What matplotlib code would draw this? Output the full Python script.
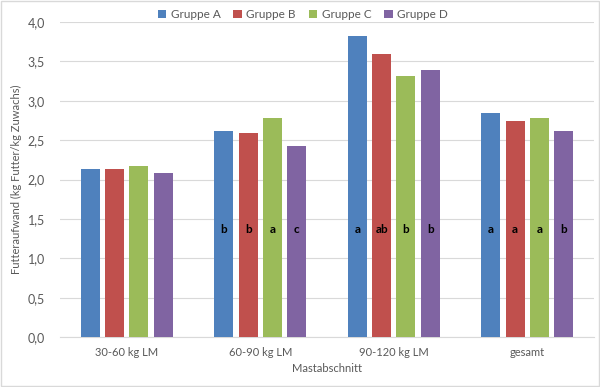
import numpy as np
import matplotlib.pyplot as plt

plt.rcParams['font.family'] = ['Lato', 'DejaVu Sans']

# Daten
abschnitte = ['30-60 kg LM', '60-90 kg LM', '90-120 kg LM', 'gesamt']
gruppen = ['Gruppe A', 'Gruppe B', 'Gruppe C', 'Gruppe D']
gruppe_a = [2.14, 2.62, 3.82, 2.84]
gruppe_b = [2.13, 2.59, 3.60, 2.74]
gruppe_c = [2.17, 2.78, 3.32, 2.78]
gruppe_d = [2.08, 2.43, 3.39, 2.62]
buchstaben_a = ['', 'b', 'a', 'a']
buchstaben_b = ['', 'b', 'ab', 'a']
buchstaben_c = ['', 'a', 'b', 'a']
buchstaben_d = ['', 'c', 'b', 'b']
y_ticks = [0.0, 0.5, 1.0, 1.5, 2.0, 2.5, 3.0, 3.5, 4.0]

farben = ['#4F81BD', '#C0504D', '#9BBB59', '#8064A2']
werte = [gruppe_a, gruppe_b, gruppe_c, gruppe_d]
buchstaben = [buchstaben_a, buchstaben_b, buchstaben_c, buchstaben_d]

fig = plt.figure(figsize=(6, 3.87), dpi=100)
ax = fig.add_axes([0.1, 0.129, 0.89, 0.814])

x = np.arange(len(abschnitte))
schritt = 0.182
breite = 0.142
for i in range(4):
    pos = x + (i - 1.5) * schritt
    ax.bar(pos, werte[i], width=breite, color=farben[i], label=gruppen[i], zorder=3)
    for p, b in zip(pos, buchstaben[i]):
        if b:
            ax.text(p, 1.36, b, ha='center', va='center', fontsize=8.5,
                    fontweight='bold', color='black', zorder=4)

ax.set_xlim(-0.5, len(abschnitte) - 0.5)
ax.set_ylim(0, 4.0)
ax.set_yticks(y_ticks)
ax.set_yticklabels([f'{v:.1f}'.replace('.', ',') for v in y_ticks])
ax.set_xticks(x)
ax.set_xticklabels(abschnitte)
ax.grid(axis='y', color='#D9D9D9', linewidth=0.8, zorder=0)
for s in ['top', 'right', 'left']:
    ax.spines[s].set_visible(False)
ax.spines['bottom'].set_color('#D9D9D9')
ax.tick_params(axis='x', length=0, labelsize=8, colors='#595959', pad=7)
ax.tick_params(axis='y', length=0, labelsize=9, colors='#595959', pad=11)

ax.set_xlabel('Mastabschnitt', fontsize=8, color='#595959', labelpad=4)
ax.set_ylabel('Futteraufwand (kg Futter/kg Zuwachs)', fontsize=8, color='#595959', labelpad=4)

ax.legend(loc='upper center', bbox_to_anchor=(0.455, 1.075), ncol=4, frameon=False,
          fontsize=8.5, handlelength=0.7, handleheight=0.7, handletextpad=0.4,
          columnspacing=1.1, labelcolor='#595959')

fig.patches.append(plt.Rectangle((0.002, 0.002), 0.996, 0.996, transform=fig.transFigure,
                                 fill=False, edgecolor='#D9D9D9', linewidth=1))

fig.savefig('out.png', dpi=100)
